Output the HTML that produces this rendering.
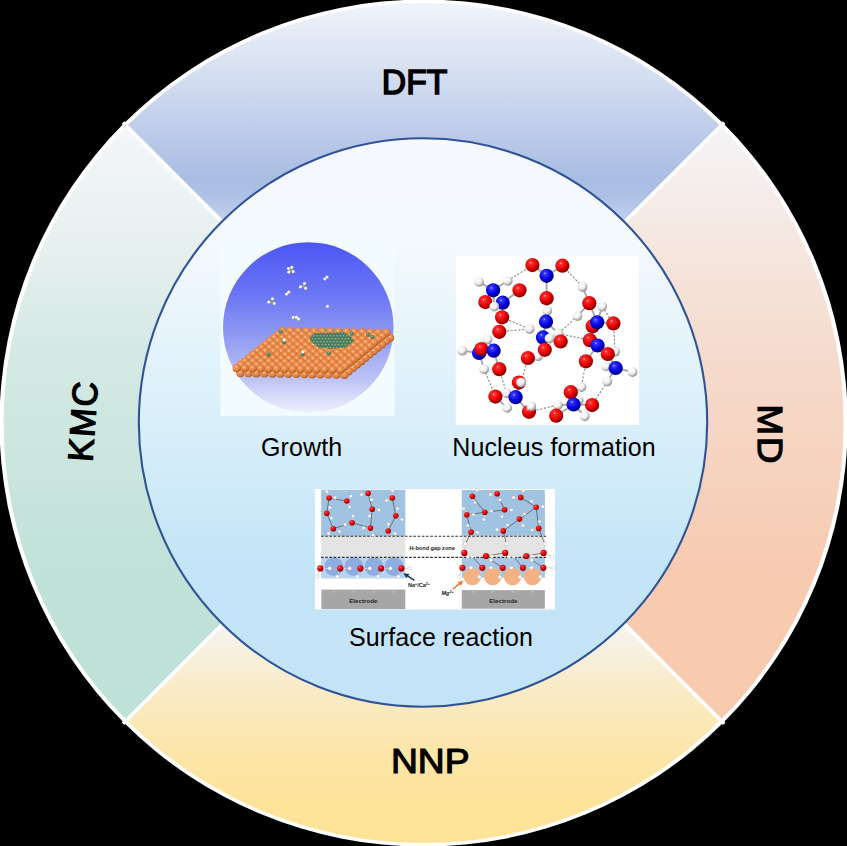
<!DOCTYPE html>
<html><head><meta charset="utf-8">
<style>
html,body{margin:0;padding:0;background:#000;}
body{width:847px;height:846px;overflow:hidden;position:relative;}
svg{position:absolute;left:0;top:0;}
.lbl{font-family:"Liberation Sans",sans-serif;font-weight:normal;font-size:34.4px;fill:#000;stroke:#000;stroke-width:1.5px;stroke-linejoin:miter;}
.cap{font-family:"Liberation Sans",sans-serif;font-size:25px;fill:#000;letter-spacing:0.12px;}
.sm{font-family:"Liberation Sans",sans-serif;font-weight:bold;fill:#222;}
</style></head>
<body>
<svg width="847" height="846" viewBox="0 0 847 846">
<defs>

<linearGradient id="gDFT" gradientUnits="userSpaceOnUse" x1="0" y1="0" x2="0" y2="222">
<stop offset="0" stop-color="#f1f4fa"/><stop offset="0.27" stop-color="#dbe3f3"/><stop offset="0.6" stop-color="#bdcbea"/><stop offset="0.8" stop-color="#a9bde3"/><stop offset="0.88" stop-color="#adc0e5"/><stop offset="1" stop-color="#c3d1ed"/>
</linearGradient>
<linearGradient id="gMD" gradientUnits="userSpaceOnUse" x1="0" y1="124" x2="0" y2="722">
<stop offset="0" stop-color="#f5f4f7"/><stop offset="0.18" stop-color="#f5e8e2"/><stop offset="0.35" stop-color="#f5ddd0"/><stop offset="0.52" stop-color="#f6d5c3"/><stop offset="0.74" stop-color="#f7cbb1"/><stop offset="1" stop-color="#f7caae"/>
</linearGradient>
<linearGradient id="gKMC" gradientUnits="userSpaceOnUse" x1="0" y1="124" x2="0" y2="722">
<stop offset="0" stop-color="#f5f6f9"/><stop offset="0.21" stop-color="#e6f0ee"/><stop offset="0.38" stop-color="#d4e9e4"/><stop offset="0.55" stop-color="#cce6df"/><stop offset="0.73" stop-color="#c1e2d9"/><stop offset="1" stop-color="#bee1d8"/>
</linearGradient>
<linearGradient id="gNNP" gradientUnits="userSpaceOnUse" x1="0" y1="624" x2="0" y2="846">
<stop offset="0" stop-color="#f5f4f0"/><stop offset="0.3" stop-color="#f9ebc6"/><stop offset="0.6" stop-color="#fce5a6"/><stop offset="0.8" stop-color="#fee39a"/><stop offset="1" stop-color="#fee397"/>
</linearGradient>
<linearGradient id="gIn" gradientUnits="userSpaceOnUse" x1="0" y1="138" x2="0" y2="707">
<stop offset="0" stop-color="#f5f9fe"/><stop offset="0.18" stop-color="#f4f9fe"/><stop offset="0.37" stop-color="#e4f3fb"/><stop offset="0.55" stop-color="#d5edf9"/><stop offset="0.74" stop-color="#c4e5f8"/><stop offset="1" stop-color="#c3e4f7"/>
</linearGradient>
<linearGradient id="gGrow" x1="0" y1="0" x2="0" y2="1">
<stop offset="0" stop-color="#4b57f6"/><stop offset="0.3" stop-color="#6a75f4"/><stop offset="0.55" stop-color="#909af2"/><stop offset="0.8" stop-color="#bcc3f5"/><stop offset="1" stop-color="#eef0fc"/>
</linearGradient>
<radialGradient id="gOr" cx="0.42" cy="0.36" r="0.64">
<stop offset="0" stop-color="#ffd7b4"/><stop offset="0.25" stop-color="#f0985a"/><stop offset="0.7" stop-color="#e07b38"/><stop offset="1" stop-color="#a95a26"/>
</radialGradient>
<radialGradient id="gGr" cx="0.42" cy="0.36" r="0.64">
<stop offset="0" stop-color="#9cc4a6"/><stop offset="0.35" stop-color="#5f8f70"/><stop offset="1" stop-color="#3a6a4c"/>
</radialGradient>
<radialGradient id="gH" cx="0.4" cy="0.35" r="0.65">
<stop offset="0" stop-color="#ffffff"/><stop offset="0.6" stop-color="#eeeeee"/><stop offset="1" stop-color="#9a9a9a"/>
</radialGradient>
<radialGradient id="gO" cx="0.38" cy="0.33" r="0.7">
<stop offset="0" stop-color="#ffd0d0"/><stop offset="0.12" stop-color="#ff3030"/><stop offset="0.6" stop-color="#e00000"/><stop offset="1" stop-color="#7a0000"/>
</radialGradient>
<radialGradient id="gN" cx="0.38" cy="0.33" r="0.7">
<stop offset="0" stop-color="#d0d0ff"/><stop offset="0.12" stop-color="#3838ff"/><stop offset="0.6" stop-color="#0000dd"/><stop offset="1" stop-color="#000070"/>
</radialGradient>
<radialGradient id="gW" cx="0.38" cy="0.33" r="0.7">
<stop offset="0" stop-color="#ffffff"/><stop offset="0.5" stop-color="#f0f0f0"/><stop offset="1" stop-color="#8a8a8a"/>
</radialGradient>

</defs>
<rect width="847" height="846" fill="#000"/>
<ellipse cx="423.6" cy="423.05" rx="424.1" ry="423.5" fill="#fff"/>
<!-- segments -->
<path d="M423.6 423.1 L126.62 126.12 A420 420 0 0 1 720.58 126.12 Z" fill="url(#gDFT)"/>
<path d="M423.6 423.1 L720.58 126.12 A420 420 0 0 1 720.58 720.08 Z" fill="url(#gMD)"/>
<path d="M423.6 423.1 L720.58 720.08 A420 420 0 0 1 126.62 720.08 Z" fill="url(#gNNP)"/>
<path d="M423.6 423.1 L126.62 720.08 A420 420 0 0 1 126.62 126.12 Z" fill="url(#gKMC)"/>
<g stroke="#fff" stroke-width="3.7">
<line x1="423.6" y1="423.1" x2="123" y2="122.5"/>
<line x1="423.6" y1="423.1" x2="724.2" y2="122.5"/>
<line x1="423.6" y1="423.1" x2="724.2" y2="723.7"/>
<line x1="423.6" y1="423.1" x2="123" y2="723.7"/>
</g>
<!-- inner circle -->
<circle cx="423" cy="422.5" r="284.2" fill="url(#gIn)" stroke="#2f5395" stroke-width="2.1"/>

<g>
<rect x="220.6" y="240.6" width="174" height="175.2" fill="#f2fcfe"/>
<circle cx="308.3" cy="327.5" r="86.3" fill="#fbfdff" opacity="0.8"/>
<circle cx="308.3" cy="327.5" r="85.3" fill="url(#gGrow)"/>
<circle cx="390.2" cy="337.7" r="4.0" fill="url(#gOr)"/>
<circle cx="386.0" cy="341.1" r="4.0" fill="url(#gOr)"/>
<circle cx="381.9" cy="344.4" r="4.0" fill="url(#gOr)"/>
<circle cx="377.7" cy="347.8" r="4.0" fill="url(#gOr)"/>
<circle cx="373.6" cy="351.2" r="4.0" fill="url(#gOr)"/>
<circle cx="369.4" cy="354.6" r="4.0" fill="url(#gOr)"/>
<circle cx="365.2" cy="358.0" r="4.0" fill="url(#gOr)"/>
<circle cx="361.1" cy="361.4" r="4.0" fill="url(#gOr)"/>
<circle cx="356.9" cy="364.7" r="4.0" fill="url(#gOr)"/>
<circle cx="352.8" cy="368.1" r="4.0" fill="url(#gOr)"/>
<circle cx="348.6" cy="371.5" r="4.0" fill="url(#gOr)"/>
<circle cx="240.4" cy="373.2" r="4.0" fill="url(#gOr)"/>
<circle cx="248.4" cy="373.3" r="4.0" fill="url(#gOr)"/>
<circle cx="256.4" cy="373.4" r="4.0" fill="url(#gOr)"/>
<circle cx="264.4" cy="373.6" r="4.0" fill="url(#gOr)"/>
<circle cx="272.4" cy="373.7" r="4.0" fill="url(#gOr)"/>
<circle cx="280.4" cy="373.8" r="4.0" fill="url(#gOr)"/>
<circle cx="288.4" cy="374.0" r="4.0" fill="url(#gOr)"/>
<circle cx="296.4" cy="374.1" r="4.0" fill="url(#gOr)"/>
<circle cx="304.4" cy="374.2" r="4.0" fill="url(#gOr)"/>
<circle cx="312.4" cy="374.4" r="4.0" fill="url(#gOr)"/>
<circle cx="320.4" cy="374.5" r="4.0" fill="url(#gOr)"/>
<circle cx="328.4" cy="374.6" r="4.0" fill="url(#gOr)"/>
<circle cx="336.4" cy="374.7" r="4.0" fill="url(#gOr)"/>
<circle cx="344.4" cy="374.9" r="4.0" fill="url(#gOr)"/>
<circle cx="282.4" cy="331.0" r="4.0" fill="url(#gOr)"/>
<circle cx="290.4" cy="331.1" r="4.0" fill="url(#gOr)"/>
<circle cx="298.4" cy="331.3" r="4.0" fill="url(#gOr)"/>
<circle cx="306.4" cy="331.4" r="4.0" fill="url(#gOr)"/>
<circle cx="314.4" cy="331.5" r="4.0" fill="url(#gOr)"/>
<circle cx="322.4" cy="331.6" r="4.0" fill="url(#gOr)"/>
<circle cx="330.4" cy="331.8" r="4.0" fill="url(#gOr)"/>
<circle cx="338.4" cy="331.9" r="4.0" fill="url(#gOr)"/>
<circle cx="346.4" cy="332.0" r="4.0" fill="url(#gOr)"/>
<circle cx="354.4" cy="332.2" r="4.0" fill="url(#gOr)"/>
<circle cx="362.4" cy="332.3" r="4.0" fill="url(#gOr)"/>
<circle cx="370.4" cy="332.4" r="4.0" fill="url(#gOr)"/>
<circle cx="378.4" cy="332.6" r="4.0" fill="url(#gOr)"/>
<circle cx="386.4" cy="332.7" r="4.0" fill="url(#gOr)"/>
<circle cx="278.2" cy="334.4" r="4.0" fill="url(#gOr)"/>
<circle cx="286.2" cy="334.5" r="4.0" fill="url(#gOr)"/>
<circle cx="294.2" cy="334.6" r="4.0" fill="url(#gOr)"/>
<circle cx="302.2" cy="334.8" r="4.0" fill="url(#gOr)"/>
<circle cx="310.2" cy="334.9" r="4.0" fill="url(#gOr)"/>
<circle cx="318.2" cy="335.0" r="4.0" fill="url(#gOr)"/>
<circle cx="326.2" cy="335.2" r="4.0" fill="url(#gOr)"/>
<circle cx="334.2" cy="335.3" r="4.0" fill="url(#gOr)"/>
<circle cx="342.2" cy="335.4" r="4.0" fill="url(#gOr)"/>
<circle cx="350.2" cy="335.6" r="4.0" fill="url(#gOr)"/>
<circle cx="358.2" cy="335.7" r="4.0" fill="url(#gOr)"/>
<circle cx="366.2" cy="335.8" r="4.0" fill="url(#gOr)"/>
<circle cx="374.2" cy="335.9" r="4.0" fill="url(#gOr)"/>
<circle cx="382.2" cy="336.1" r="4.0" fill="url(#gOr)"/>
<circle cx="274.1" cy="337.8" r="4.0" fill="url(#gOr)"/>
<circle cx="282.1" cy="337.9" r="4.0" fill="url(#gOr)"/>
<circle cx="290.1" cy="338.0" r="4.0" fill="url(#gOr)"/>
<circle cx="298.1" cy="338.1" r="4.0" fill="url(#gOr)"/>
<circle cx="306.1" cy="338.3" r="4.0" fill="url(#gOr)"/>
<circle cx="314.1" cy="338.4" r="4.0" fill="url(#gOr)"/>
<circle cx="322.1" cy="338.5" r="4.0" fill="url(#gOr)"/>
<circle cx="330.1" cy="338.7" r="4.0" fill="url(#gOr)"/>
<circle cx="338.1" cy="338.8" r="4.0" fill="url(#gOr)"/>
<circle cx="346.1" cy="338.9" r="4.0" fill="url(#gOr)"/>
<circle cx="354.1" cy="339.1" r="4.0" fill="url(#gOr)"/>
<circle cx="362.1" cy="339.2" r="4.0" fill="url(#gOr)"/>
<circle cx="370.1" cy="339.3" r="4.0" fill="url(#gOr)"/>
<circle cx="378.1" cy="339.4" r="4.0" fill="url(#gOr)"/>
<circle cx="269.9" cy="341.1" r="4.0" fill="url(#gOr)"/>
<circle cx="277.9" cy="341.3" r="4.0" fill="url(#gOr)"/>
<circle cx="285.9" cy="341.4" r="4.0" fill="url(#gOr)"/>
<circle cx="293.9" cy="341.5" r="4.0" fill="url(#gOr)"/>
<circle cx="301.9" cy="341.7" r="4.0" fill="url(#gOr)"/>
<circle cx="309.9" cy="341.8" r="4.0" fill="url(#gOr)"/>
<circle cx="317.9" cy="341.9" r="4.0" fill="url(#gOr)"/>
<circle cx="325.9" cy="342.1" r="4.0" fill="url(#gOr)"/>
<circle cx="333.9" cy="342.2" r="4.0" fill="url(#gOr)"/>
<circle cx="341.9" cy="342.3" r="4.0" fill="url(#gOr)"/>
<circle cx="349.9" cy="342.4" r="4.0" fill="url(#gOr)"/>
<circle cx="357.9" cy="342.6" r="4.0" fill="url(#gOr)"/>
<circle cx="365.9" cy="342.7" r="4.0" fill="url(#gOr)"/>
<circle cx="373.9" cy="342.8" r="4.0" fill="url(#gOr)"/>
<circle cx="265.8" cy="344.5" r="4.0" fill="url(#gOr)"/>
<circle cx="273.8" cy="344.6" r="4.0" fill="url(#gOr)"/>
<circle cx="281.8" cy="344.8" r="4.0" fill="url(#gOr)"/>
<circle cx="289.8" cy="344.9" r="4.0" fill="url(#gOr)"/>
<circle cx="297.8" cy="345.0" r="4.0" fill="url(#gOr)"/>
<circle cx="305.8" cy="345.2" r="4.0" fill="url(#gOr)"/>
<circle cx="313.8" cy="345.3" r="4.0" fill="url(#gOr)"/>
<circle cx="321.8" cy="345.4" r="4.0" fill="url(#gOr)"/>
<circle cx="329.8" cy="345.6" r="4.0" fill="url(#gOr)"/>
<circle cx="337.8" cy="345.7" r="4.0" fill="url(#gOr)"/>
<circle cx="345.8" cy="345.8" r="4.0" fill="url(#gOr)"/>
<circle cx="353.8" cy="345.9" r="4.0" fill="url(#gOr)"/>
<circle cx="361.8" cy="346.1" r="4.0" fill="url(#gOr)"/>
<circle cx="369.8" cy="346.2" r="4.0" fill="url(#gOr)"/>
<circle cx="261.6" cy="347.9" r="4.0" fill="url(#gOr)"/>
<circle cx="269.6" cy="348.0" r="4.0" fill="url(#gOr)"/>
<circle cx="277.6" cy="348.2" r="4.0" fill="url(#gOr)"/>
<circle cx="285.6" cy="348.3" r="4.0" fill="url(#gOr)"/>
<circle cx="293.6" cy="348.4" r="4.0" fill="url(#gOr)"/>
<circle cx="301.6" cy="348.5" r="4.0" fill="url(#gOr)"/>
<circle cx="309.6" cy="348.7" r="4.0" fill="url(#gOr)"/>
<circle cx="317.6" cy="348.8" r="4.0" fill="url(#gOr)"/>
<circle cx="325.6" cy="348.9" r="4.0" fill="url(#gOr)"/>
<circle cx="333.6" cy="349.1" r="4.0" fill="url(#gOr)"/>
<circle cx="341.6" cy="349.2" r="4.0" fill="url(#gOr)"/>
<circle cx="349.6" cy="349.3" r="4.0" fill="url(#gOr)"/>
<circle cx="357.6" cy="349.5" r="4.0" fill="url(#gOr)"/>
<circle cx="365.6" cy="349.6" r="4.0" fill="url(#gOr)"/>
<circle cx="257.4" cy="351.3" r="4.0" fill="url(#gOr)"/>
<circle cx="265.4" cy="351.4" r="4.0" fill="url(#gOr)"/>
<circle cx="273.4" cy="351.5" r="4.0" fill="url(#gOr)"/>
<circle cx="281.4" cy="351.7" r="4.0" fill="url(#gOr)"/>
<circle cx="289.4" cy="351.8" r="4.0" fill="url(#gOr)"/>
<circle cx="297.4" cy="351.9" r="4.0" fill="url(#gOr)"/>
<circle cx="305.4" cy="352.1" r="4.0" fill="url(#gOr)"/>
<circle cx="313.4" cy="352.2" r="4.0" fill="url(#gOr)"/>
<circle cx="321.4" cy="352.3" r="4.0" fill="url(#gOr)"/>
<circle cx="329.4" cy="352.5" r="4.0" fill="url(#gOr)"/>
<circle cx="337.4" cy="352.6" r="4.0" fill="url(#gOr)"/>
<circle cx="345.4" cy="352.7" r="4.0" fill="url(#gOr)"/>
<circle cx="353.4" cy="352.8" r="4.0" fill="url(#gOr)"/>
<circle cx="361.4" cy="353.0" r="4.0" fill="url(#gOr)"/>
<circle cx="253.3" cy="354.7" r="4.0" fill="url(#gOr)"/>
<circle cx="261.3" cy="354.8" r="4.0" fill="url(#gOr)"/>
<circle cx="269.3" cy="354.9" r="4.0" fill="url(#gOr)"/>
<circle cx="277.3" cy="355.1" r="4.0" fill="url(#gOr)"/>
<circle cx="285.3" cy="355.2" r="4.0" fill="url(#gOr)"/>
<circle cx="293.3" cy="355.3" r="4.0" fill="url(#gOr)"/>
<circle cx="301.3" cy="355.4" r="4.0" fill="url(#gOr)"/>
<circle cx="309.3" cy="355.6" r="4.0" fill="url(#gOr)"/>
<circle cx="317.3" cy="355.7" r="4.0" fill="url(#gOr)"/>
<circle cx="325.3" cy="355.8" r="4.0" fill="url(#gOr)"/>
<circle cx="333.3" cy="356.0" r="4.0" fill="url(#gOr)"/>
<circle cx="341.3" cy="356.1" r="4.0" fill="url(#gOr)"/>
<circle cx="349.3" cy="356.2" r="4.0" fill="url(#gOr)"/>
<circle cx="357.3" cy="356.4" r="4.0" fill="url(#gOr)"/>
<circle cx="249.1" cy="358.0" r="4.0" fill="url(#gOr)"/>
<circle cx="257.1" cy="358.2" r="4.0" fill="url(#gOr)"/>
<circle cx="265.1" cy="358.3" r="4.0" fill="url(#gOr)"/>
<circle cx="273.1" cy="358.4" r="4.0" fill="url(#gOr)"/>
<circle cx="281.1" cy="358.6" r="4.0" fill="url(#gOr)"/>
<circle cx="289.1" cy="358.7" r="4.0" fill="url(#gOr)"/>
<circle cx="297.1" cy="358.8" r="4.0" fill="url(#gOr)"/>
<circle cx="305.1" cy="359.0" r="4.0" fill="url(#gOr)"/>
<circle cx="313.1" cy="359.1" r="4.0" fill="url(#gOr)"/>
<circle cx="321.1" cy="359.2" r="4.0" fill="url(#gOr)"/>
<circle cx="329.1" cy="359.3" r="4.0" fill="url(#gOr)"/>
<circle cx="337.1" cy="359.5" r="4.0" fill="url(#gOr)"/>
<circle cx="345.1" cy="359.6" r="4.0" fill="url(#gOr)"/>
<circle cx="353.1" cy="359.7" r="4.0" fill="url(#gOr)"/>
<circle cx="245.0" cy="361.4" r="4.0" fill="url(#gOr)"/>
<circle cx="253.0" cy="361.6" r="4.0" fill="url(#gOr)"/>
<circle cx="261.0" cy="361.7" r="4.0" fill="url(#gOr)"/>
<circle cx="269.0" cy="361.8" r="4.0" fill="url(#gOr)"/>
<circle cx="277.0" cy="361.9" r="4.0" fill="url(#gOr)"/>
<circle cx="285.0" cy="362.1" r="4.0" fill="url(#gOr)"/>
<circle cx="293.0" cy="362.2" r="4.0" fill="url(#gOr)"/>
<circle cx="301.0" cy="362.3" r="4.0" fill="url(#gOr)"/>
<circle cx="309.0" cy="362.5" r="4.0" fill="url(#gOr)"/>
<circle cx="317.0" cy="362.6" r="4.0" fill="url(#gOr)"/>
<circle cx="325.0" cy="362.7" r="4.0" fill="url(#gOr)"/>
<circle cx="333.0" cy="362.9" r="4.0" fill="url(#gOr)"/>
<circle cx="341.0" cy="363.0" r="4.0" fill="url(#gOr)"/>
<circle cx="349.0" cy="363.1" r="4.0" fill="url(#gOr)"/>
<circle cx="240.8" cy="364.8" r="4.0" fill="url(#gOr)"/>
<circle cx="248.8" cy="364.9" r="4.0" fill="url(#gOr)"/>
<circle cx="256.8" cy="365.1" r="4.0" fill="url(#gOr)"/>
<circle cx="264.8" cy="365.2" r="4.0" fill="url(#gOr)"/>
<circle cx="272.8" cy="365.3" r="4.0" fill="url(#gOr)"/>
<circle cx="280.8" cy="365.4" r="4.0" fill="url(#gOr)"/>
<circle cx="288.8" cy="365.6" r="4.0" fill="url(#gOr)"/>
<circle cx="296.8" cy="365.7" r="4.0" fill="url(#gOr)"/>
<circle cx="304.8" cy="365.8" r="4.0" fill="url(#gOr)"/>
<circle cx="312.8" cy="366.0" r="4.0" fill="url(#gOr)"/>
<circle cx="320.8" cy="366.1" r="4.0" fill="url(#gOr)"/>
<circle cx="328.8" cy="366.2" r="4.0" fill="url(#gOr)"/>
<circle cx="336.8" cy="366.4" r="4.0" fill="url(#gOr)"/>
<circle cx="344.8" cy="366.5" r="4.0" fill="url(#gOr)"/>
<circle cx="236.6" cy="368.2" r="4.0" fill="url(#gOr)"/>
<circle cx="244.6" cy="368.3" r="4.0" fill="url(#gOr)"/>
<circle cx="252.6" cy="368.4" r="4.0" fill="url(#gOr)"/>
<circle cx="260.6" cy="368.6" r="4.0" fill="url(#gOr)"/>
<circle cx="268.6" cy="368.7" r="4.0" fill="url(#gOr)"/>
<circle cx="276.6" cy="368.8" r="4.0" fill="url(#gOr)"/>
<circle cx="284.6" cy="369.0" r="4.0" fill="url(#gOr)"/>
<circle cx="292.6" cy="369.1" r="4.0" fill="url(#gOr)"/>
<circle cx="300.6" cy="369.2" r="4.0" fill="url(#gOr)"/>
<circle cx="308.6" cy="369.4" r="4.0" fill="url(#gOr)"/>
<circle cx="316.6" cy="369.5" r="4.0" fill="url(#gOr)"/>
<circle cx="324.6" cy="369.6" r="4.0" fill="url(#gOr)"/>
<circle cx="332.6" cy="369.7" r="4.0" fill="url(#gOr)"/>
<circle cx="340.6" cy="369.9" r="4.0" fill="url(#gOr)"/>
<clipPath id="cpG"><path d="M309.8 339.6 Q312 334 316 333.3 L344 332.6 Q350 335 353.8 340.3 Q349 346 344 347.6 Q333 349.2 319 347.6 Q313 344 309.8 339.6 Z"/></clipPath>
<path d="M309.8 339.6 Q312 334 316 333.3 L344 332.6 Q350 335 353.8 340.3 Q349 346 344 347.6 Q333 349.2 319 347.6 Q313 344 309.8 339.6 Z" fill="#3d7453"/>
<g clip-path="url(#cpG)">
<circle cx="306.0" cy="333.2" r="1.95" fill="url(#gGr)"/>
<circle cx="309.3" cy="333.2" r="1.95" fill="url(#gGr)"/>
<circle cx="312.6" cy="333.2" r="1.95" fill="url(#gGr)"/>
<circle cx="315.9" cy="333.2" r="1.95" fill="url(#gGr)"/>
<circle cx="319.2" cy="333.2" r="1.95" fill="url(#gGr)"/>
<circle cx="322.5" cy="333.2" r="1.95" fill="url(#gGr)"/>
<circle cx="325.8" cy="333.2" r="1.95" fill="url(#gGr)"/>
<circle cx="329.1" cy="333.2" r="1.95" fill="url(#gGr)"/>
<circle cx="332.4" cy="333.2" r="1.95" fill="url(#gGr)"/>
<circle cx="335.7" cy="333.2" r="1.95" fill="url(#gGr)"/>
<circle cx="339.0" cy="333.2" r="1.95" fill="url(#gGr)"/>
<circle cx="342.3" cy="333.2" r="1.95" fill="url(#gGr)"/>
<circle cx="345.6" cy="333.2" r="1.95" fill="url(#gGr)"/>
<circle cx="348.9" cy="333.2" r="1.95" fill="url(#gGr)"/>
<circle cx="352.2" cy="333.2" r="1.95" fill="url(#gGr)"/>
<circle cx="355.5" cy="333.2" r="1.95" fill="url(#gGr)"/>
<circle cx="307.6" cy="336.2" r="1.95" fill="url(#gGr)"/>
<circle cx="310.9" cy="336.2" r="1.95" fill="url(#gGr)"/>
<circle cx="314.2" cy="336.2" r="1.95" fill="url(#gGr)"/>
<circle cx="317.5" cy="336.2" r="1.95" fill="url(#gGr)"/>
<circle cx="320.8" cy="336.2" r="1.95" fill="url(#gGr)"/>
<circle cx="324.1" cy="336.2" r="1.95" fill="url(#gGr)"/>
<circle cx="327.4" cy="336.2" r="1.95" fill="url(#gGr)"/>
<circle cx="330.7" cy="336.2" r="1.95" fill="url(#gGr)"/>
<circle cx="334.0" cy="336.2" r="1.95" fill="url(#gGr)"/>
<circle cx="337.3" cy="336.2" r="1.95" fill="url(#gGr)"/>
<circle cx="340.6" cy="336.2" r="1.95" fill="url(#gGr)"/>
<circle cx="343.9" cy="336.2" r="1.95" fill="url(#gGr)"/>
<circle cx="347.2" cy="336.2" r="1.95" fill="url(#gGr)"/>
<circle cx="350.5" cy="336.2" r="1.95" fill="url(#gGr)"/>
<circle cx="353.8" cy="336.2" r="1.95" fill="url(#gGr)"/>
<circle cx="357.1" cy="336.2" r="1.95" fill="url(#gGr)"/>
<circle cx="306.0" cy="339.2" r="1.95" fill="url(#gGr)"/>
<circle cx="309.3" cy="339.2" r="1.95" fill="url(#gGr)"/>
<circle cx="312.6" cy="339.2" r="1.95" fill="url(#gGr)"/>
<circle cx="315.9" cy="339.2" r="1.95" fill="url(#gGr)"/>
<circle cx="319.2" cy="339.2" r="1.95" fill="url(#gGr)"/>
<circle cx="322.5" cy="339.2" r="1.95" fill="url(#gGr)"/>
<circle cx="325.8" cy="339.2" r="1.95" fill="url(#gGr)"/>
<circle cx="329.1" cy="339.2" r="1.95" fill="url(#gGr)"/>
<circle cx="332.4" cy="339.2" r="1.95" fill="url(#gGr)"/>
<circle cx="335.7" cy="339.2" r="1.95" fill="url(#gGr)"/>
<circle cx="339.0" cy="339.2" r="1.95" fill="url(#gGr)"/>
<circle cx="342.3" cy="339.2" r="1.95" fill="url(#gGr)"/>
<circle cx="345.6" cy="339.2" r="1.95" fill="url(#gGr)"/>
<circle cx="348.9" cy="339.2" r="1.95" fill="url(#gGr)"/>
<circle cx="352.2" cy="339.2" r="1.95" fill="url(#gGr)"/>
<circle cx="355.5" cy="339.2" r="1.95" fill="url(#gGr)"/>
<circle cx="307.6" cy="342.2" r="1.95" fill="url(#gGr)"/>
<circle cx="310.9" cy="342.2" r="1.95" fill="url(#gGr)"/>
<circle cx="314.2" cy="342.2" r="1.95" fill="url(#gGr)"/>
<circle cx="317.5" cy="342.2" r="1.95" fill="url(#gGr)"/>
<circle cx="320.8" cy="342.2" r="1.95" fill="url(#gGr)"/>
<circle cx="324.1" cy="342.2" r="1.95" fill="url(#gGr)"/>
<circle cx="327.4" cy="342.2" r="1.95" fill="url(#gGr)"/>
<circle cx="330.7" cy="342.2" r="1.95" fill="url(#gGr)"/>
<circle cx="334.0" cy="342.2" r="1.95" fill="url(#gGr)"/>
<circle cx="337.3" cy="342.2" r="1.95" fill="url(#gGr)"/>
<circle cx="340.6" cy="342.2" r="1.95" fill="url(#gGr)"/>
<circle cx="343.9" cy="342.2" r="1.95" fill="url(#gGr)"/>
<circle cx="347.2" cy="342.2" r="1.95" fill="url(#gGr)"/>
<circle cx="350.5" cy="342.2" r="1.95" fill="url(#gGr)"/>
<circle cx="353.8" cy="342.2" r="1.95" fill="url(#gGr)"/>
<circle cx="357.1" cy="342.2" r="1.95" fill="url(#gGr)"/>
<circle cx="306.0" cy="345.2" r="1.95" fill="url(#gGr)"/>
<circle cx="309.3" cy="345.2" r="1.95" fill="url(#gGr)"/>
<circle cx="312.6" cy="345.2" r="1.95" fill="url(#gGr)"/>
<circle cx="315.9" cy="345.2" r="1.95" fill="url(#gGr)"/>
<circle cx="319.2" cy="345.2" r="1.95" fill="url(#gGr)"/>
<circle cx="322.5" cy="345.2" r="1.95" fill="url(#gGr)"/>
<circle cx="325.8" cy="345.2" r="1.95" fill="url(#gGr)"/>
<circle cx="329.1" cy="345.2" r="1.95" fill="url(#gGr)"/>
<circle cx="332.4" cy="345.2" r="1.95" fill="url(#gGr)"/>
<circle cx="335.7" cy="345.2" r="1.95" fill="url(#gGr)"/>
<circle cx="339.0" cy="345.2" r="1.95" fill="url(#gGr)"/>
<circle cx="342.3" cy="345.2" r="1.95" fill="url(#gGr)"/>
<circle cx="345.6" cy="345.2" r="1.95" fill="url(#gGr)"/>
<circle cx="348.9" cy="345.2" r="1.95" fill="url(#gGr)"/>
<circle cx="352.2" cy="345.2" r="1.95" fill="url(#gGr)"/>
<circle cx="355.5" cy="345.2" r="1.95" fill="url(#gGr)"/>
<circle cx="307.6" cy="348.2" r="1.95" fill="url(#gGr)"/>
<circle cx="310.9" cy="348.2" r="1.95" fill="url(#gGr)"/>
<circle cx="314.2" cy="348.2" r="1.95" fill="url(#gGr)"/>
<circle cx="317.5" cy="348.2" r="1.95" fill="url(#gGr)"/>
<circle cx="320.8" cy="348.2" r="1.95" fill="url(#gGr)"/>
<circle cx="324.1" cy="348.2" r="1.95" fill="url(#gGr)"/>
<circle cx="327.4" cy="348.2" r="1.95" fill="url(#gGr)"/>
<circle cx="330.7" cy="348.2" r="1.95" fill="url(#gGr)"/>
<circle cx="334.0" cy="348.2" r="1.95" fill="url(#gGr)"/>
<circle cx="337.3" cy="348.2" r="1.95" fill="url(#gGr)"/>
<circle cx="340.6" cy="348.2" r="1.95" fill="url(#gGr)"/>
<circle cx="343.9" cy="348.2" r="1.95" fill="url(#gGr)"/>
<circle cx="347.2" cy="348.2" r="1.95" fill="url(#gGr)"/>
<circle cx="350.5" cy="348.2" r="1.95" fill="url(#gGr)"/>
<circle cx="353.8" cy="348.2" r="1.95" fill="url(#gGr)"/>
<circle cx="357.1" cy="348.2" r="1.95" fill="url(#gGr)"/>
</g>
<circle cx="280.6" cy="331.5" r="2.1" fill="url(#gGr)"/>
<circle cx="283.9" cy="342.3" r="2.1" fill="url(#gGr)"/>
<circle cx="268.6" cy="354.4" r="2.1" fill="url(#gGr)"/>
<circle cx="302.5" cy="354.4" r="2.1" fill="url(#gGr)"/>
<circle cx="328.7" cy="353.3" r="2.1" fill="url(#gGr)"/>
<circle cx="351.7" cy="333.6" r="2.1" fill="url(#gGr)"/>
<circle cx="368.1" cy="334.7" r="2.1" fill="url(#gGr)"/>
<circle cx="372.4" cy="337.0" r="2.1" fill="url(#gGr)"/>
<circle cx="284.2" cy="339.8" r="1.5" fill="#fff"/>
<circle cx="302.8" cy="351.8" r="1.5" fill="#fff"/>
<circle cx="290.7" cy="270.1" r="2.0" fill="#8c9c8c"/>
<circle cx="288.5" cy="268.6" r="1.7" fill="url(#gH)"/>
<circle cx="291.9" cy="267.5" r="1.7" fill="url(#gH)"/>
<circle cx="293.3" cy="271.8" r="1.7" fill="url(#gH)"/>
<circle cx="288.9" cy="272.3" r="1.7" fill="url(#gH)"/>
<circle cx="324.9" cy="279.1" r="1.7" fill="url(#gH)"/>
<circle cx="327.1" cy="277.2" r="1.7" fill="url(#gH)"/>
<circle cx="303.4" cy="286.2" r="2.0" fill="#8c9c8c"/>
<circle cx="300.6" cy="287.0" r="1.7" fill="url(#gH)"/>
<circle cx="304.6" cy="283.6" r="1.7" fill="url(#gH)"/>
<circle cx="305.8" cy="288.4" r="1.7" fill="url(#gH)"/>
<circle cx="286.7" cy="294.2" r="1.7" fill="url(#gH)"/>
<circle cx="288.9" cy="292.3" r="1.7" fill="url(#gH)"/>
<circle cx="271.8" cy="301.7" r="2.0" fill="#8c9c8c"/>
<circle cx="268.9" cy="302.3" r="1.7" fill="url(#gH)"/>
<circle cx="272.6" cy="298.9" r="1.7" fill="url(#gH)"/>
<circle cx="274.4" cy="303.6" r="1.7" fill="url(#gH)"/>
<circle cx="327.5" cy="306.5" r="1.7" fill="url(#gH)"/>
<circle cx="295.9" cy="318.3" r="2.0" fill="#8c9c8c"/>
<circle cx="293.3" cy="317.5" r="1.7" fill="url(#gH)"/>
<circle cx="296.5" cy="317.4" r="1.7" fill="url(#gH)"/>
<circle cx="298.7" cy="319.2" r="1.7" fill="url(#gH)"/>
</g>
<g>
<rect x="455.8" y="255.6" width="183.2" height="169.2" fill="#fff"/>
<line x1="479.1" y1="281.9" x2="493.1" y2="290.3" stroke="#a8a8a8" stroke-width="1.9"/>
<line x1="493.1" y1="290.3" x2="507.7" y2="280.8" stroke="#a8a8a8" stroke-width="1.9"/>
<line x1="502.7" y1="302.7" x2="519.5" y2="290.3" stroke="#a8a8a8" stroke-width="1.9"/>
<line x1="532.4" y1="265.1" x2="546.6" y2="275.8" stroke="#a8a8a8" stroke-width="1.9"/>
<line x1="546.6" y1="275.8" x2="562.4" y2="265.7" stroke="#a8a8a8" stroke-width="1.9"/>
<line x1="546.6" y1="275.8" x2="546.6" y2="298.2" stroke="#a8a8a8" stroke-width="1.9"/>
<line x1="546.6" y1="298.2" x2="547.2" y2="310.8" stroke="#a8a8a8" stroke-width="1.9"/>
<line x1="547.2" y1="310.8" x2="546.0" y2="321.7" stroke="#a8a8a8" stroke-width="1.9"/>
<line x1="502.7" y1="302.7" x2="502.1" y2="317.3" stroke="#a8a8a8" stroke-width="1.9"/>
<line x1="493.1" y1="290.3" x2="485.3" y2="302.1" stroke="#a8a8a8" stroke-width="1.9"/>
<line x1="493.1" y1="290.3" x2="494.3" y2="306.6" stroke="#a8a8a8" stroke-width="1.9"/>
<line x1="582.6" y1="287.0" x2="589.3" y2="303.2" stroke="#a8a8a8" stroke-width="1.9"/>
<line x1="589.3" y1="303.2" x2="577.5" y2="316.1" stroke="#a8a8a8" stroke-width="1.9"/>
<line x1="589.3" y1="303.2" x2="597.2" y2="322.3" stroke="#a8a8a8" stroke-width="1.9"/>
<line x1="597.2" y1="322.3" x2="613.4" y2="323.4" stroke="#a8a8a8" stroke-width="1.9"/>
<line x1="597.2" y1="322.3" x2="602.2" y2="306.6" stroke="#a8a8a8" stroke-width="1.9"/>
<line x1="597.2" y1="322.3" x2="592.7" y2="326.2" stroke="#a8a8a8" stroke-width="1.9"/>
<line x1="546.0" y1="321.7" x2="558.5" y2="333.5" stroke="#a8a8a8" stroke-width="1.9"/>
<line x1="543.0" y1="337.4" x2="549.5" y2="338.6" stroke="#a8a8a8" stroke-width="1.9"/>
<line x1="589.9" y1="340.2" x2="597.6" y2="345.5" stroke="#a8a8a8" stroke-width="1.9"/>
<line x1="597.2" y1="322.3" x2="589.9" y2="340.2" stroke="#a8a8a8" stroke-width="1.9"/>
<line x1="546.0" y1="321.7" x2="543.0" y2="337.4" stroke="#a8a8a8" stroke-width="1.9"/>
<line x1="543.0" y1="337.4" x2="560.7" y2="341.5" stroke="#a8a8a8" stroke-width="1.9"/>
<line x1="543.0" y1="337.4" x2="544.8" y2="349.8" stroke="#a8a8a8" stroke-width="1.9"/>
<line x1="462.3" y1="350.7" x2="479.1" y2="352.9" stroke="#a8a8a8" stroke-width="1.9"/>
<line x1="479.1" y1="352.9" x2="484.2" y2="369.2" stroke="#a8a8a8" stroke-width="1.9"/>
<line x1="493.7" y1="350.7" x2="499.3" y2="369.2" stroke="#a8a8a8" stroke-width="1.9"/>
<line x1="493.7" y1="350.7" x2="487.5" y2="339.6" stroke="#a8a8a8" stroke-width="1.9"/>
<line x1="481.4" y1="349.0" x2="493.7" y2="350.7" stroke="#a8a8a8" stroke-width="1.9"/>
<line x1="527.9" y1="358.0" x2="538.0" y2="356.3" stroke="#a8a8a8" stroke-width="1.9"/>
<line x1="544.8" y1="349.8" x2="538.0" y2="356.3" stroke="#a8a8a8" stroke-width="1.9"/>
<line x1="518.9" y1="382.6" x2="515.6" y2="397.2" stroke="#a8a8a8" stroke-width="1.9"/>
<line x1="506.6" y1="393.3" x2="515.6" y2="397.2" stroke="#a8a8a8" stroke-width="1.9"/>
<line x1="495.4" y1="396.6" x2="507.2" y2="407.9" stroke="#a8a8a8" stroke-width="1.9"/>
<line x1="515.6" y1="397.2" x2="529.0" y2="411.8" stroke="#a8a8a8" stroke-width="1.9"/>
<line x1="529.0" y1="411.8" x2="531.3" y2="406.2" stroke="#a8a8a8" stroke-width="1.9"/>
<line x1="585.9" y1="361.3" x2="597.6" y2="345.5" stroke="#a8a8a8" stroke-width="1.9"/>
<line x1="607.8" y1="354.0" x2="615.7" y2="368.0" stroke="#a8a8a8" stroke-width="1.9"/>
<line x1="615.7" y1="368.0" x2="632.5" y2="372.0" stroke="#a8a8a8" stroke-width="1.9"/>
<line x1="615.7" y1="368.0" x2="607.3" y2="381.5" stroke="#a8a8a8" stroke-width="1.9"/>
<line x1="615.7" y1="368.0" x2="606.1" y2="366.4" stroke="#a8a8a8" stroke-width="1.9"/>
<line x1="570.8" y1="392.2" x2="578.7" y2="400.6" stroke="#a8a8a8" stroke-width="1.9"/>
<line x1="578.7" y1="400.6" x2="573.6" y2="404.5" stroke="#a8a8a8" stroke-width="1.9"/>
<line x1="573.6" y1="404.5" x2="557.9" y2="405.1" stroke="#a8a8a8" stroke-width="1.9"/>
<line x1="573.6" y1="404.5" x2="592.1" y2="405.1" stroke="#a8a8a8" stroke-width="1.9"/>
<line x1="573.6" y1="404.5" x2="584.8" y2="416.3" stroke="#a8a8a8" stroke-width="1.9"/>
<line x1="556.2" y1="415.7" x2="573.6" y2="404.5" stroke="#a8a8a8" stroke-width="1.9"/>
<line x1="607.8" y1="354.0" x2="615.1" y2="351.8" stroke="#a8a8a8" stroke-width="1.9"/>
<line x1="597.6" y1="345.5" x2="607.8" y2="354.0" stroke="#a8a8a8" stroke-width="1.9"/>
<line x1="507.7" y1="280.8" x2="532.4" y2="265.1" stroke="#8a8a8a" stroke-width="1.1" stroke-dasharray="2.2 1.6"/>
<line x1="502.1" y1="317.3" x2="529.6" y2="329.0" stroke="#8a8a8a" stroke-width="1.1" stroke-dasharray="2.2 1.6"/>
<line x1="499.3" y1="331.8" x2="529.6" y2="329.0" stroke="#8a8a8a" stroke-width="1.1" stroke-dasharray="2.2 1.6"/>
<line x1="562.4" y1="265.7" x2="582.6" y2="287.0" stroke="#8a8a8a" stroke-width="1.1" stroke-dasharray="2.2 1.6"/>
<line x1="577.5" y1="316.1" x2="558.5" y2="333.5" stroke="#8a8a8a" stroke-width="1.1" stroke-dasharray="2.2 1.6"/>
<line x1="558.5" y1="333.5" x2="589.9" y2="340.2" stroke="#8a8a8a" stroke-width="1.1" stroke-dasharray="2.2 1.6"/>
<line x1="602.2" y1="306.6" x2="613.4" y2="323.4" stroke="#8a8a8a" stroke-width="1.1" stroke-dasharray="2.2 1.6"/>
<line x1="613.4" y1="323.4" x2="615.1" y2="351.8" stroke="#8a8a8a" stroke-width="1.1" stroke-dasharray="2.2 1.6"/>
<line x1="484.2" y1="369.2" x2="495.4" y2="396.6" stroke="#8a8a8a" stroke-width="1.1" stroke-dasharray="2.2 1.6"/>
<line x1="499.3" y1="369.2" x2="506.6" y2="393.3" stroke="#8a8a8a" stroke-width="1.1" stroke-dasharray="2.2 1.6"/>
<line x1="527.9" y1="358.0" x2="521.2" y2="382.6" stroke="#8a8a8a" stroke-width="1.1" stroke-dasharray="2.2 1.6"/>
<line x1="529.0" y1="411.8" x2="557.9" y2="405.1" stroke="#8a8a8a" stroke-width="1.1" stroke-dasharray="2.2 1.6"/>
<line x1="585.9" y1="361.3" x2="581.5" y2="387.1" stroke="#8a8a8a" stroke-width="1.1" stroke-dasharray="2.2 1.6"/>
<line x1="607.3" y1="381.5" x2="592.1" y2="405.1" stroke="#8a8a8a" stroke-width="1.1" stroke-dasharray="2.2 1.6"/>
<circle cx="532.4" cy="265.1" r="7.1" fill="url(#gO)"/>
<circle cx="546.6" cy="275.8" r="7.1" fill="url(#gN)"/>
<circle cx="562.4" cy="265.7" r="7.1" fill="url(#gO)"/>
<circle cx="479.1" cy="281.9" r="4.9" fill="url(#gW)"/>
<circle cx="507.7" cy="280.8" r="4.9" fill="url(#gW)"/>
<circle cx="493.1" cy="290.3" r="7.1" fill="url(#gN)"/>
<circle cx="519.5" cy="290.3" r="7.1" fill="url(#gO)"/>
<circle cx="582.6" cy="287.0" r="4.9" fill="url(#gW)"/>
<circle cx="485.3" cy="302.1" r="7.1" fill="url(#gO)"/>
<circle cx="502.7" cy="302.7" r="7.1" fill="url(#gN)"/>
<circle cx="494.3" cy="306.6" r="4.9" fill="url(#gW)"/>
<circle cx="502.1" cy="317.3" r="7.1" fill="url(#gO)"/>
<circle cx="546.6" cy="298.2" r="7.1" fill="url(#gO)"/>
<circle cx="547.2" cy="310.8" r="4.9" fill="url(#gW)"/>
<circle cx="546.0" cy="321.7" r="7.1" fill="url(#gN)"/>
<circle cx="577.5" cy="316.1" r="4.9" fill="url(#gW)"/>
<circle cx="602.2" cy="306.6" r="4.9" fill="url(#gW)"/>
<circle cx="589.3" cy="303.2" r="7.1" fill="url(#gO)"/>
<circle cx="592.7" cy="326.2" r="7.1" fill="url(#gO)"/>
<circle cx="597.2" cy="322.3" r="7.1" fill="url(#gN)"/>
<circle cx="613.4" cy="323.4" r="7.1" fill="url(#gO)"/>
<circle cx="529.6" cy="329.0" r="4.9" fill="url(#gW)"/>
<circle cx="499.3" cy="331.8" r="7.1" fill="url(#gO)"/>
<circle cx="487.5" cy="339.6" r="4.9" fill="url(#gW)"/>
<circle cx="543.0" cy="337.4" r="7.1" fill="url(#gN)"/>
<circle cx="558.5" cy="333.5" r="4.9" fill="url(#gW)"/>
<circle cx="549.5" cy="338.6" r="4.9" fill="url(#gW)"/>
<circle cx="560.7" cy="341.5" r="7.1" fill="url(#gO)"/>
<circle cx="589.9" cy="340.2" r="7.1" fill="url(#gO)"/>
<circle cx="597.6" cy="345.5" r="7.1" fill="url(#gN)"/>
<circle cx="615.1" cy="351.8" r="4.9" fill="url(#gW)"/>
<circle cx="607.8" cy="354.0" r="7.1" fill="url(#gO)"/>
<circle cx="462.3" cy="350.7" r="4.9" fill="url(#gW)"/>
<circle cx="479.1" cy="352.9" r="7.1" fill="url(#gN)"/>
<circle cx="481.4" cy="349.0" r="7.1" fill="url(#gO)"/>
<circle cx="493.7" cy="350.7" r="7.1" fill="url(#gN)"/>
<circle cx="538.0" cy="356.3" r="4.9" fill="url(#gW)"/>
<circle cx="544.8" cy="349.8" r="7.1" fill="url(#gO)"/>
<circle cx="527.9" cy="358.0" r="7.1" fill="url(#gO)"/>
<circle cx="585.9" cy="361.3" r="7.1" fill="url(#gO)"/>
<circle cx="606.1" cy="366.4" r="4.9" fill="url(#gW)"/>
<circle cx="615.7" cy="368.0" r="7.1" fill="url(#gN)"/>
<circle cx="632.5" cy="372.0" r="4.9" fill="url(#gW)"/>
<circle cx="484.2" cy="369.2" r="4.9" fill="url(#gW)"/>
<circle cx="499.3" cy="369.2" r="7.1" fill="url(#gO)"/>
<circle cx="607.3" cy="381.5" r="4.9" fill="url(#gW)"/>
<circle cx="581.5" cy="387.1" r="4.9" fill="url(#gW)"/>
<circle cx="518.9" cy="382.6" r="7.1" fill="url(#gO)"/>
<circle cx="521.2" cy="382.6" r="4.9" fill="url(#gW)"/>
<circle cx="578.7" cy="400.6" r="4.9" fill="url(#gW)"/>
<circle cx="570.8" cy="392.2" r="7.1" fill="url(#gO)"/>
<circle cx="506.6" cy="393.3" r="4.9" fill="url(#gW)"/>
<circle cx="495.4" cy="396.6" r="7.1" fill="url(#gO)"/>
<circle cx="515.6" cy="397.2" r="7.1" fill="url(#gN)"/>
<circle cx="507.2" cy="407.9" r="4.9" fill="url(#gW)"/>
<circle cx="529.0" cy="411.8" r="7.1" fill="url(#gO)"/>
<circle cx="531.3" cy="406.2" r="4.9" fill="url(#gW)"/>
<circle cx="557.9" cy="405.1" r="4.9" fill="url(#gW)"/>
<circle cx="573.6" cy="404.5" r="7.1" fill="url(#gN)"/>
<circle cx="592.1" cy="405.1" r="7.1" fill="url(#gO)"/>
<circle cx="556.2" cy="415.7" r="7.1" fill="url(#gO)"/>
<circle cx="584.8" cy="416.3" r="4.9" fill="url(#gW)"/>
</g>
<g>
<rect x="315" y="489" width="240" height="120.5" fill="#fff"/>
<rect x="321.2" y="489.7" width="84.1" height="46.7" fill="#a0c3e2"/>
<rect x="321.2" y="536.5" width="84.1" height="20.8" fill="#e4e4e4"/>
<rect x="321.2" y="557.6" width="84.1" height="20.8" fill="#b8d3ef"/>
<circle cx="333.8" cy="566.6" r="9.4" fill="#7f9fdc" opacity="0.75"/>
<circle cx="353.9" cy="566.6" r="9.4" fill="#7f9fdc" opacity="0.75"/>
<circle cx="374.0" cy="566.6" r="9.4" fill="#7f9fdc" opacity="0.75"/>
<circle cx="394.1" cy="566.6" r="9.4" fill="#7f9fdc" opacity="0.75"/>
<rect x="321.4" y="589.6" width="83.9" height="19.5" fill="#a6a6a6"/>
<rect x="461.8" y="490" width="83.1" height="45.8" fill="#a0c3e2"/>
<rect x="461.8" y="536.2" width="83.1" height="20.5" fill="#e4e4e4"/>
<rect x="461.8" y="557.3" width="83.1" height="20.4" fill="#a6c7e5"/>
<circle cx="472.4" cy="576.5" r="8.7" fill="#f4b183"/>
<circle cx="492.8" cy="576.5" r="8.7" fill="#f4b183"/>
<circle cx="512.6" cy="576.5" r="8.7" fill="#f4b183"/>
<circle cx="532.5" cy="576.5" r="8.7" fill="#f4b183"/>
<rect x="461.8" y="590.1" width="83.1" height="18.6" fill="#a6a6a6"/>
<rect x="332.7" y="591.5" width="1.6" height="0.8" fill="#e8e8e8"/>
<rect x="352.7" y="591.5" width="1.6" height="0.8" fill="#e8e8e8"/>
<rect x="372.7" y="591.5" width="1.6" height="0.8" fill="#e8e8e8"/>
<rect x="392.7" y="591.5" width="1.6" height="0.8" fill="#e8e8e8"/>
<rect x="472.2" y="591.5" width="1.6" height="0.8" fill="#e8e8e8"/>
<rect x="491.7" y="591.5" width="1.6" height="0.8" fill="#e8e8e8"/>
<rect x="511.7" y="591.5" width="1.6" height="0.8" fill="#e8e8e8"/>
<rect x="531.7" y="591.5" width="1.6" height="0.8" fill="#e8e8e8"/>
<text class="sm" x="363.3" y="602.8" font-size="6.2" text-anchor="middle">Electrode</text>
<text class="sm" x="503.3" y="602.8" font-size="6.2" text-anchor="middle">Electrode</text>
<text class="sm" x="432.2" y="549.9" font-size="5.6" text-anchor="middle">H-bond gap zone</text>
<text class="sm" x="418.9" y="586.8" font-size="5.6" text-anchor="middle">Na<tspan font-size="3.5" dy="-2">+</tspan><tspan dy="2">/Ca</tspan><tspan font-size="3.5" dy="-2">2+</tspan></text>
<text class="sm" x="447.5" y="595.2" font-size="5.6" font-style="italic" text-anchor="middle">Mg<tspan font-size="3.5" dy="-2">2+</tspan></text>
<path d="M414.5 580.4 L405.5 574.6" stroke="#1f3550" stroke-width="1.6"/><path d="M403.5 573.2 L409.5 574.0 L406.2 578.2 Z" fill="#1f3550"/>
<path d="M452.8 589.1 L460.8 582.6" stroke="#ed7d31" stroke-width="1.4"/><path d="M463.5 580.4 L457.4 582.2 L461.0 585.8 Z" fill="#ed7d31"/>
<line x1="321" y1="536.3" x2="546" y2="536.3" stroke="#333" stroke-width="1.1" stroke-dasharray="2.6 1.6"/>
<line x1="321" y1="557.4" x2="546" y2="557.4" stroke="#333" stroke-width="1.1" stroke-dasharray="2.6 1.6"/>
<line x1="329.1" y1="498.0" x2="346.8" y2="501.0" stroke="#3a3a3a" stroke-width="0.6"/>
<line x1="329.1" y1="498.0" x2="326.8" y2="513.3" stroke="#3a3a3a" stroke-width="0.6"/>
<line x1="326.8" y1="513.3" x2="333.3" y2="528.7" stroke="#3a3a3a" stroke-width="0.6"/>
<line x1="333.3" y1="528.7" x2="352.1" y2="522.8" stroke="#3a3a3a" stroke-width="0.6"/>
<line x1="352.1" y1="522.8" x2="370.4" y2="528.1" stroke="#3a3a3a" stroke-width="0.6"/>
<line x1="370.4" y1="528.1" x2="372.2" y2="509.2" stroke="#3a3a3a" stroke-width="0.6"/>
<line x1="372.2" y1="509.2" x2="368.1" y2="493.3" stroke="#3a3a3a" stroke-width="0.6"/>
<line x1="392.3" y1="498.0" x2="395.8" y2="515.7" stroke="#3a3a3a" stroke-width="0.6"/>
<line x1="395.8" y1="515.7" x2="388.2" y2="531.0" stroke="#3a3a3a" stroke-width="0.6"/>
<line x1="472.4" y1="496.2" x2="484.8" y2="512.3" stroke="#3a3a3a" stroke-width="0.6"/>
<line x1="484.8" y1="512.3" x2="466.8" y2="514.8" stroke="#3a3a3a" stroke-width="0.6"/>
<line x1="466.8" y1="514.8" x2="471.1" y2="532.1" stroke="#3a3a3a" stroke-width="0.6"/>
<line x1="484.8" y1="512.3" x2="504.6" y2="509.8" stroke="#3a3a3a" stroke-width="0.6"/>
<line x1="504.6" y1="509.8" x2="497.1" y2="493.7" stroke="#3a3a3a" stroke-width="0.6"/>
<line x1="520.7" y1="497.4" x2="536.2" y2="507.3" stroke="#3a3a3a" stroke-width="0.6"/>
<line x1="536.2" y1="507.3" x2="519.5" y2="519.1" stroke="#3a3a3a" stroke-width="0.6"/>
<line x1="519.5" y1="519.1" x2="503.3" y2="530.9" stroke="#3a3a3a" stroke-width="0.6"/>
<line x1="536.2" y1="507.3" x2="538.7" y2="528.4" stroke="#3a3a3a" stroke-width="0.6"/>
<line x1="471.1" y1="532.1" x2="465.5" y2="543.9" stroke="#3a3a3a" stroke-width="0.6"/>
<line x1="503.3" y1="530.9" x2="506.4" y2="543.9" stroke="#3a3a3a" stroke-width="0.6"/>
<line x1="538.7" y1="528.4" x2="544.9" y2="543.9" stroke="#3a3a3a" stroke-width="0.6"/>
<line x1="472.4" y1="556.7" x2="482.3" y2="567.8" stroke="#3a3a3a" stroke-width="0.6"/>
<line x1="491.0" y1="560.0" x2="502.7" y2="567.8" stroke="#3a3a3a" stroke-width="0.6"/>
<line x1="513.9" y1="556.7" x2="522.9" y2="567.8" stroke="#3a3a3a" stroke-width="0.6"/>
<line x1="531.9" y1="560.0" x2="543.3" y2="567.8" stroke="#3a3a3a" stroke-width="0.6"/>
<line x1="486.0" y1="556.0" x2="505.2" y2="552.9" stroke="#3a3a3a" stroke-width="0.6"/>
<line x1="526.3" y1="556.0" x2="543.6" y2="552.9" stroke="#3a3a3a" stroke-width="0.6"/>
<line x1="329.1" y1="498.0" x2="326.8" y2="491.5" stroke="#d0d0d0" stroke-width="0.9"/>
<line x1="329.1" y1="498.0" x2="335.0" y2="497.6" stroke="#d0d0d0" stroke-width="0.9"/>
<circle cx="326.8" cy="491.5" r="1.6" fill="#fff" stroke="#999" stroke-width="0.3"/>
<circle cx="335.0" cy="497.6" r="1.6" fill="#fff" stroke="#999" stroke-width="0.3"/>
<circle cx="329.1" cy="498.0" r="2.8" fill="url(#gO)"/>
<line x1="346.8" y1="501.0" x2="351.0" y2="496.0" stroke="#d0d0d0" stroke-width="0.9"/>
<line x1="346.8" y1="501.0" x2="349.5" y2="507.0" stroke="#d0d0d0" stroke-width="0.9"/>
<circle cx="351.0" cy="496.0" r="1.6" fill="#fff" stroke="#999" stroke-width="0.3"/>
<circle cx="349.5" cy="507.0" r="1.6" fill="#fff" stroke="#999" stroke-width="0.3"/>
<circle cx="346.8" cy="501.0" r="2.8" fill="url(#gO)"/>
<line x1="368.1" y1="493.3" x2="361.5" y2="494.5" stroke="#d0d0d0" stroke-width="0.9"/>
<line x1="368.1" y1="493.3" x2="371.5" y2="499.5" stroke="#d0d0d0" stroke-width="0.9"/>
<circle cx="361.5" cy="494.5" r="1.6" fill="#fff" stroke="#999" stroke-width="0.3"/>
<circle cx="371.5" cy="499.5" r="1.6" fill="#fff" stroke="#999" stroke-width="0.3"/>
<circle cx="368.1" cy="493.3" r="2.8" fill="url(#gO)"/>
<line x1="392.3" y1="498.0" x2="392.5" y2="490.5" stroke="#d0d0d0" stroke-width="0.9"/>
<line x1="392.3" y1="498.0" x2="386.5" y2="500.5" stroke="#d0d0d0" stroke-width="0.9"/>
<circle cx="392.5" cy="490.5" r="1.6" fill="#fff" stroke="#999" stroke-width="0.3"/>
<circle cx="386.5" cy="500.5" r="1.6" fill="#fff" stroke="#999" stroke-width="0.3"/>
<circle cx="392.3" cy="498.0" r="2.8" fill="url(#gO)"/>
<line x1="326.8" y1="513.3" x2="330.0" y2="507.5" stroke="#d0d0d0" stroke-width="0.9"/>
<line x1="326.8" y1="513.3" x2="331.5" y2="518.0" stroke="#d0d0d0" stroke-width="0.9"/>
<circle cx="330.0" cy="507.5" r="1.6" fill="#fff" stroke="#999" stroke-width="0.3"/>
<circle cx="331.5" cy="518.0" r="1.6" fill="#fff" stroke="#999" stroke-width="0.3"/>
<circle cx="326.8" cy="513.3" r="2.8" fill="url(#gO)"/>
<line x1="372.2" y1="509.2" x2="379.0" y2="509.8" stroke="#d0d0d0" stroke-width="0.9"/>
<line x1="372.2" y1="509.2" x2="369.5" y2="516.0" stroke="#d0d0d0" stroke-width="0.9"/>
<circle cx="379.0" cy="509.8" r="1.6" fill="#fff" stroke="#999" stroke-width="0.3"/>
<circle cx="369.5" cy="516.0" r="1.6" fill="#fff" stroke="#999" stroke-width="0.3"/>
<circle cx="372.2" cy="509.2" r="2.8" fill="url(#gO)"/>
<line x1="395.8" y1="515.7" x2="397.5" y2="508.5" stroke="#d0d0d0" stroke-width="0.9"/>
<line x1="395.8" y1="515.7" x2="402.0" y2="519.5" stroke="#d0d0d0" stroke-width="0.9"/>
<circle cx="397.5" cy="508.5" r="1.6" fill="#fff" stroke="#999" stroke-width="0.3"/>
<circle cx="402.0" cy="519.5" r="1.6" fill="#fff" stroke="#999" stroke-width="0.3"/>
<circle cx="395.8" cy="515.7" r="2.8" fill="url(#gO)"/>
<line x1="352.1" y1="522.8" x2="353.0" y2="516.0" stroke="#d0d0d0" stroke-width="0.9"/>
<line x1="352.1" y1="522.8" x2="345.0" y2="524.5" stroke="#d0d0d0" stroke-width="0.9"/>
<circle cx="353.0" cy="516.0" r="1.6" fill="#fff" stroke="#999" stroke-width="0.3"/>
<circle cx="345.0" cy="524.5" r="1.6" fill="#fff" stroke="#999" stroke-width="0.3"/>
<circle cx="352.1" cy="522.8" r="2.8" fill="url(#gO)"/>
<line x1="333.3" y1="528.7" x2="328.5" y2="533.5" stroke="#d0d0d0" stroke-width="0.9"/>
<line x1="333.3" y1="528.7" x2="339.5" y2="531.5" stroke="#d0d0d0" stroke-width="0.9"/>
<circle cx="328.5" cy="533.5" r="1.6" fill="#fff" stroke="#999" stroke-width="0.3"/>
<circle cx="339.5" cy="531.5" r="1.6" fill="#fff" stroke="#999" stroke-width="0.3"/>
<circle cx="333.3" cy="528.7" r="2.8" fill="url(#gO)"/>
<line x1="370.4" y1="528.1" x2="363.5" y2="527.8" stroke="#d0d0d0" stroke-width="0.9"/>
<line x1="370.4" y1="528.1" x2="373.0" y2="535.0" stroke="#d0d0d0" stroke-width="0.9"/>
<circle cx="363.5" cy="527.8" r="1.6" fill="#fff" stroke="#999" stroke-width="0.3"/>
<circle cx="373.0" cy="535.0" r="1.6" fill="#fff" stroke="#999" stroke-width="0.3"/>
<circle cx="370.4" cy="528.1" r="2.8" fill="url(#gO)"/>
<line x1="388.2" y1="531.0" x2="388.5" y2="524.0" stroke="#d0d0d0" stroke-width="0.9"/>
<line x1="388.2" y1="531.0" x2="395.0" y2="533.5" stroke="#d0d0d0" stroke-width="0.9"/>
<circle cx="388.5" cy="524.0" r="1.6" fill="#fff" stroke="#999" stroke-width="0.3"/>
<circle cx="395.0" cy="533.5" r="1.6" fill="#fff" stroke="#999" stroke-width="0.3"/>
<circle cx="388.2" cy="531.0" r="2.8" fill="url(#gO)"/>
<line x1="472.4" y1="496.2" x2="477.0" y2="490.0" stroke="#d0d0d0" stroke-width="0.9"/>
<line x1="472.4" y1="496.2" x2="475.0" y2="502.5" stroke="#d0d0d0" stroke-width="0.9"/>
<circle cx="477.0" cy="490.0" r="1.6" fill="#fff" stroke="#999" stroke-width="0.3"/>
<circle cx="475.0" cy="502.5" r="1.6" fill="#fff" stroke="#999" stroke-width="0.3"/>
<circle cx="472.4" cy="496.2" r="2.8" fill="url(#gO)"/>
<line x1="497.1" y1="493.7" x2="490.5" y2="494.5" stroke="#d0d0d0" stroke-width="0.9"/>
<line x1="497.1" y1="493.7" x2="500.0" y2="500.0" stroke="#d0d0d0" stroke-width="0.9"/>
<circle cx="490.5" cy="494.5" r="1.6" fill="#fff" stroke="#999" stroke-width="0.3"/>
<circle cx="500.0" cy="500.0" r="1.6" fill="#fff" stroke="#999" stroke-width="0.3"/>
<circle cx="497.1" cy="493.7" r="2.8" fill="url(#gO)"/>
<line x1="520.7" y1="497.4" x2="513.5" y2="497.5" stroke="#d0d0d0" stroke-width="0.9"/>
<line x1="520.7" y1="497.4" x2="523.5" y2="490.5" stroke="#d0d0d0" stroke-width="0.9"/>
<circle cx="513.5" cy="497.5" r="1.6" fill="#fff" stroke="#999" stroke-width="0.3"/>
<circle cx="523.5" cy="490.5" r="1.6" fill="#fff" stroke="#999" stroke-width="0.3"/>
<circle cx="520.7" cy="497.4" r="2.8" fill="url(#gO)"/>
<line x1="466.8" y1="514.8" x2="463.8" y2="508.5" stroke="#d0d0d0" stroke-width="0.9"/>
<line x1="466.8" y1="514.8" x2="473.5" y2="514.5" stroke="#d0d0d0" stroke-width="0.9"/>
<circle cx="463.8" cy="508.5" r="1.6" fill="#fff" stroke="#999" stroke-width="0.3"/>
<circle cx="473.5" cy="514.5" r="1.6" fill="#fff" stroke="#999" stroke-width="0.3"/>
<circle cx="466.8" cy="514.8" r="2.8" fill="url(#gO)"/>
<line x1="484.8" y1="512.3" x2="491.5" y2="511.0" stroke="#d0d0d0" stroke-width="0.9"/>
<line x1="484.8" y1="512.3" x2="483.8" y2="519.5" stroke="#d0d0d0" stroke-width="0.9"/>
<circle cx="491.5" cy="511.0" r="1.6" fill="#fff" stroke="#999" stroke-width="0.3"/>
<circle cx="483.8" cy="519.5" r="1.6" fill="#fff" stroke="#999" stroke-width="0.3"/>
<circle cx="484.8" cy="512.3" r="2.8" fill="url(#gO)"/>
<line x1="504.6" y1="509.8" x2="511.5" y2="509.8" stroke="#d0d0d0" stroke-width="0.9"/>
<line x1="504.6" y1="509.8" x2="502.0" y2="516.5" stroke="#d0d0d0" stroke-width="0.9"/>
<circle cx="511.5" cy="509.8" r="1.6" fill="#fff" stroke="#999" stroke-width="0.3"/>
<circle cx="502.0" cy="516.5" r="1.6" fill="#fff" stroke="#999" stroke-width="0.3"/>
<circle cx="504.6" cy="509.8" r="2.8" fill="url(#gO)"/>
<line x1="536.2" y1="507.3" x2="531.5" y2="501.0" stroke="#d0d0d0" stroke-width="0.9"/>
<line x1="536.2" y1="507.3" x2="543.0" y2="506.5" stroke="#d0d0d0" stroke-width="0.9"/>
<circle cx="531.5" cy="501.0" r="1.6" fill="#fff" stroke="#999" stroke-width="0.3"/>
<circle cx="543.0" cy="506.5" r="1.6" fill="#fff" stroke="#999" stroke-width="0.3"/>
<circle cx="536.2" cy="507.3" r="2.8" fill="url(#gO)"/>
<line x1="519.5" y1="519.1" x2="524.5" y2="514.0" stroke="#d0d0d0" stroke-width="0.9"/>
<line x1="519.5" y1="519.1" x2="523.0" y2="525.5" stroke="#d0d0d0" stroke-width="0.9"/>
<circle cx="524.5" cy="514.0" r="1.6" fill="#fff" stroke="#999" stroke-width="0.3"/>
<circle cx="523.0" cy="525.5" r="1.6" fill="#fff" stroke="#999" stroke-width="0.3"/>
<circle cx="519.5" cy="519.1" r="2.8" fill="url(#gO)"/>
<line x1="471.1" y1="532.1" x2="477.5" y2="532.5" stroke="#d0d0d0" stroke-width="0.9"/>
<line x1="471.1" y1="532.1" x2="468.0" y2="525.5" stroke="#d0d0d0" stroke-width="0.9"/>
<circle cx="477.5" cy="532.5" r="1.6" fill="#fff" stroke="#999" stroke-width="0.3"/>
<circle cx="468.0" cy="525.5" r="1.6" fill="#fff" stroke="#999" stroke-width="0.3"/>
<circle cx="471.1" cy="532.1" r="2.8" fill="url(#gO)"/>
<line x1="503.3" y1="530.9" x2="497.0" y2="529.5" stroke="#d0d0d0" stroke-width="0.9"/>
<line x1="503.3" y1="530.9" x2="507.5" y2="525.0" stroke="#d0d0d0" stroke-width="0.9"/>
<circle cx="497.0" cy="529.5" r="1.6" fill="#fff" stroke="#999" stroke-width="0.3"/>
<circle cx="507.5" cy="525.0" r="1.6" fill="#fff" stroke="#999" stroke-width="0.3"/>
<circle cx="503.3" cy="530.9" r="2.8" fill="url(#gO)"/>
<line x1="538.7" y1="528.4" x2="532.0" y2="530.0" stroke="#d0d0d0" stroke-width="0.9"/>
<line x1="538.7" y1="528.4" x2="539.5" y2="521.5" stroke="#d0d0d0" stroke-width="0.9"/>
<circle cx="532.0" cy="530.0" r="1.6" fill="#fff" stroke="#999" stroke-width="0.3"/>
<circle cx="539.5" cy="521.5" r="1.6" fill="#fff" stroke="#999" stroke-width="0.3"/>
<circle cx="538.7" cy="528.4" r="2.8" fill="url(#gO)"/>
<line x1="320.3" y1="568.4" x2="329.7" y2="568.4" stroke="#d0d0d0" stroke-width="0.9"/>
<line x1="320.3" y1="568.4" x2="317.3" y2="576.6" stroke="#d0d0d0" stroke-width="0.9"/>
<circle cx="329.7" cy="568.4" r="1.8" fill="#fff" stroke="#999" stroke-width="0.3"/>
<circle cx="317.3" cy="576.6" r="1.8" fill="#fff" stroke="#999" stroke-width="0.3"/>
<circle cx="320.3" cy="568.4" r="3.1" fill="url(#gO)"/>
<line x1="340.3" y1="568.4" x2="349.7" y2="568.4" stroke="#d0d0d0" stroke-width="0.9"/>
<line x1="340.3" y1="568.4" x2="337.3" y2="576.6" stroke="#d0d0d0" stroke-width="0.9"/>
<circle cx="349.7" cy="568.4" r="1.8" fill="#fff" stroke="#999" stroke-width="0.3"/>
<circle cx="337.3" cy="576.6" r="1.8" fill="#fff" stroke="#999" stroke-width="0.3"/>
<circle cx="340.3" cy="568.4" r="3.1" fill="url(#gO)"/>
<line x1="360.4" y1="568.4" x2="369.8" y2="568.4" stroke="#d0d0d0" stroke-width="0.9"/>
<line x1="360.4" y1="568.4" x2="357.4" y2="576.6" stroke="#d0d0d0" stroke-width="0.9"/>
<circle cx="369.8" cy="568.4" r="1.8" fill="#fff" stroke="#999" stroke-width="0.3"/>
<circle cx="357.4" cy="576.6" r="1.8" fill="#fff" stroke="#999" stroke-width="0.3"/>
<circle cx="360.4" cy="568.4" r="3.1" fill="url(#gO)"/>
<line x1="381.1" y1="568.4" x2="390.5" y2="568.4" stroke="#d0d0d0" stroke-width="0.9"/>
<line x1="381.1" y1="568.4" x2="378.1" y2="576.6" stroke="#d0d0d0" stroke-width="0.9"/>
<circle cx="390.5" cy="568.4" r="1.8" fill="#fff" stroke="#999" stroke-width="0.3"/>
<circle cx="378.1" cy="576.6" r="1.8" fill="#fff" stroke="#999" stroke-width="0.3"/>
<circle cx="381.1" cy="568.4" r="3.1" fill="url(#gO)"/>
<line x1="401.4" y1="568.4" x2="410.0" y2="568.4" stroke="#d0d0d0" stroke-width="0.9"/>
<line x1="401.4" y1="568.4" x2="398.4" y2="576.6" stroke="#d0d0d0" stroke-width="0.9"/>
<circle cx="410.0" cy="568.4" r="1.8" fill="#fff" stroke="#999" stroke-width="0.3"/>
<circle cx="398.4" cy="576.6" r="1.8" fill="#fff" stroke="#999" stroke-width="0.3"/>
<circle cx="401.4" cy="568.4" r="3.1" fill="url(#gO)"/>
<line x1="462.4" y1="567.8" x2="471.1" y2="567.8" stroke="#d0d0d0" stroke-width="0.9"/>
<line x1="462.4" y1="567.8" x2="459.4" y2="576.9" stroke="#d0d0d0" stroke-width="0.9"/>
<circle cx="471.1" cy="567.8" r="1.8" fill="#fff" stroke="#999" stroke-width="0.3"/>
<circle cx="459.4" cy="576.9" r="1.8" fill="#fff" stroke="#999" stroke-width="0.3"/>
<circle cx="462.4" cy="567.8" r="3.1" fill="url(#gO)"/>
<line x1="482.3" y1="567.8" x2="491.0" y2="567.8" stroke="#d0d0d0" stroke-width="0.9"/>
<line x1="482.3" y1="567.8" x2="479.3" y2="576.9" stroke="#d0d0d0" stroke-width="0.9"/>
<circle cx="491.0" cy="567.8" r="1.8" fill="#fff" stroke="#999" stroke-width="0.3"/>
<circle cx="479.3" cy="576.9" r="1.8" fill="#fff" stroke="#999" stroke-width="0.3"/>
<circle cx="482.3" cy="567.8" r="3.1" fill="url(#gO)"/>
<line x1="502.7" y1="567.8" x2="511.4" y2="567.8" stroke="#d0d0d0" stroke-width="0.9"/>
<line x1="502.7" y1="567.8" x2="499.7" y2="576.9" stroke="#d0d0d0" stroke-width="0.9"/>
<circle cx="511.4" cy="567.8" r="1.8" fill="#fff" stroke="#999" stroke-width="0.3"/>
<circle cx="499.7" cy="576.9" r="1.8" fill="#fff" stroke="#999" stroke-width="0.3"/>
<circle cx="502.7" cy="567.8" r="3.1" fill="url(#gO)"/>
<line x1="522.9" y1="567.8" x2="531.6" y2="567.8" stroke="#d0d0d0" stroke-width="0.9"/>
<line x1="522.9" y1="567.8" x2="519.9" y2="576.9" stroke="#d0d0d0" stroke-width="0.9"/>
<circle cx="531.6" cy="567.8" r="1.8" fill="#fff" stroke="#999" stroke-width="0.3"/>
<circle cx="519.9" cy="576.9" r="1.8" fill="#fff" stroke="#999" stroke-width="0.3"/>
<circle cx="522.9" cy="567.8" r="3.1" fill="url(#gO)"/>
<line x1="543.3" y1="567.8" x2="552.9" y2="567.8" stroke="#d0d0d0" stroke-width="0.9"/>
<line x1="543.3" y1="567.8" x2="540.3" y2="576.9" stroke="#d0d0d0" stroke-width="0.9"/>
<circle cx="552.9" cy="567.8" r="1.8" fill="#fff" stroke="#999" stroke-width="0.3"/>
<circle cx="540.3" cy="576.9" r="1.8" fill="#fff" stroke="#999" stroke-width="0.3"/>
<circle cx="543.3" cy="567.8" r="3.1" fill="url(#gO)"/>
<line x1="464.3" y1="552.9" x2="465.5" y2="543.9" stroke="#d0d0d0" stroke-width="0.9"/>
<line x1="464.3" y1="552.9" x2="468.0" y2="557.0" stroke="#d0d0d0" stroke-width="0.9"/>
<circle cx="465.5" cy="543.9" r="1.8" fill="#fff" stroke="#999" stroke-width="0.3"/>
<circle cx="468.0" cy="557.0" r="1.8" fill="#fff" stroke="#999" stroke-width="0.3"/>
<circle cx="464.3" cy="552.9" r="3.1" fill="url(#gO)"/>
<line x1="486.0" y1="556.0" x2="491.6" y2="556.3" stroke="#d0d0d0" stroke-width="0.9"/>
<line x1="486.0" y1="556.0" x2="491.0" y2="560.0" stroke="#d0d0d0" stroke-width="0.9"/>
<circle cx="491.6" cy="556.3" r="1.8" fill="#fff" stroke="#999" stroke-width="0.3"/>
<circle cx="491.0" cy="560.0" r="1.8" fill="#fff" stroke="#999" stroke-width="0.3"/>
<circle cx="486.0" cy="556.0" r="3.1" fill="url(#gO)"/>
<line x1="505.2" y1="552.9" x2="506.4" y2="543.9" stroke="#d0d0d0" stroke-width="0.9"/>
<line x1="505.2" y1="552.9" x2="509.0" y2="557.0" stroke="#d0d0d0" stroke-width="0.9"/>
<circle cx="506.4" cy="543.9" r="1.8" fill="#fff" stroke="#999" stroke-width="0.3"/>
<circle cx="509.0" cy="557.0" r="1.8" fill="#fff" stroke="#999" stroke-width="0.3"/>
<circle cx="505.2" cy="552.9" r="3.1" fill="url(#gO)"/>
<line x1="526.3" y1="556.0" x2="531.9" y2="556.3" stroke="#d0d0d0" stroke-width="0.9"/>
<line x1="526.3" y1="556.0" x2="531.9" y2="560.0" stroke="#d0d0d0" stroke-width="0.9"/>
<circle cx="531.9" cy="556.3" r="1.8" fill="#fff" stroke="#999" stroke-width="0.3"/>
<circle cx="531.9" cy="560.0" r="1.8" fill="#fff" stroke="#999" stroke-width="0.3"/>
<circle cx="526.3" cy="556.0" r="3.1" fill="url(#gO)"/>
<line x1="543.6" y1="552.9" x2="544.9" y2="543.9" stroke="#d0d0d0" stroke-width="0.9"/>
<line x1="543.6" y1="552.9" x2="552.3" y2="556.7" stroke="#d0d0d0" stroke-width="0.9"/>
<circle cx="544.9" cy="543.9" r="1.8" fill="#fff" stroke="#999" stroke-width="0.3"/>
<circle cx="552.3" cy="556.7" r="1.8" fill="#fff" stroke="#999" stroke-width="0.3"/>
<circle cx="543.6" cy="552.9" r="3.1" fill="url(#gO)"/>
<circle cx="472.4" cy="556.7" r="1.6" fill="#fff" stroke="#999" stroke-width="0.3"/>
<circle cx="513.9" cy="556.7" r="1.6" fill="#fff" stroke="#999" stroke-width="0.3"/>
</g>
<!-- labels -->
<g transform="translate(414.6,94.3) scale(0.98,1)"><text class="lbl" x="0" y="0" text-anchor="middle">DFT</text></g>
<g transform="translate(430.2,772.9) scale(1.04,1)"><text class="lbl" x="0" y="0" text-anchor="middle" style="font-size:35.8px;stroke-width:1.15px">NNP</text></g>
<g transform="translate(95.0,422.4) rotate(-86) scale(0.98,1)"><text class="lbl" x="1" y="0" text-anchor="middle" style="font-size:35px;stroke-width:1.35px;letter-spacing:2px">KMC</text></g>
<g transform="translate(757.7,434) rotate(90) scale(1.04,1)"><text class="lbl" x="1" y="0" text-anchor="middle" style="font-size:35.2px;stroke-width:1.25px;letter-spacing:2px">MD</text></g>
<text class="cap" x="301.6" y="455.7" text-anchor="middle">Growth</text>
<text class="cap" x="554" y="455.7" text-anchor="middle">Nucleus formation</text>
<text class="cap" x="441.0" y="646.3" text-anchor="middle">Surface reaction</text>

</svg>
</body></html>
